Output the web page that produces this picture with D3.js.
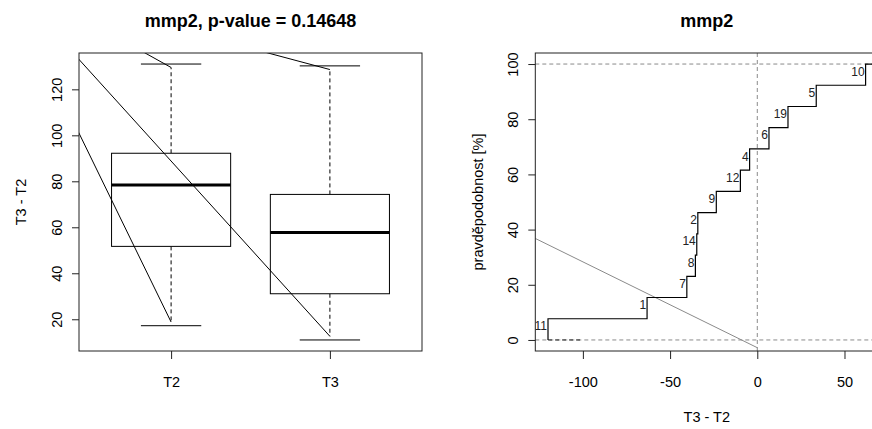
<!DOCTYPE html>
<html>
<head>
<meta charset="utf-8">
<script src="https://cdn.jsdelivr.net/npm/d3@7"></script>
<style>
body { margin: 0; background: #fff; }
text { font-family: "Liberation Sans", Arial, sans-serif; fill: #000; }
</style>
</head>
<body>
<script>
const width = 872, height = 429;

// left panel: boxplot of the two groups
const groups = ["T2", "T3"];
const capLow = [17.2, 11.0];
const whiskLow = [18.8, 12.6];
const q1 = [51.7, 31.1];
const medians = [78.4, 57.7];
const q3 = [92.2, 74.3];
const whiskHigh = [129.5, 128.6];
const capHigh = [131.0, 130.2];
const boxTicks = [20, 40, 60, 80, 100, 120];

// the stray lines over the boxplot, from x = 0 to a whisker end
const strayStart = [165.0, 160.4, 168.0, 165.6];
const strayGroup = [2, 1, 1, 2];
const strayEnd = [12.6, 18.8, 129.5, 128.6];

// right panel: empirical distribution of T3 - T2
const stepLabels = ["11", "1", "7", "8", "14", "2", "9", "12", "4", "6", "19", "5", "10"];
const stepX = [-120.0, -63.2, -40.4, -35.5, -34.7, -34.1, -23.5, -9.7, -4.4, 6.7, 17.6, 33.8, 62.1];
const ecdfYTicks = [0, 20, 40, 60, 80, 100];
const ecdfXTicks = [-100, -50, 0, 50];
const greyLineX = [-127.3, 0];
const greyLineY = [36.8, -2.8];
const darkZeroX = [-120, -100];

const tickFont = "14.5px", labFont = "12px";
const dash = "4,3", grey = "#8a8a8a";

const left = {x0: 79, x1: 422, y0: 53, y1: 351};
const right = {x0: 535.3, x1: 878.3, y0: 53, y1: 351};

const svg = d3.select("body")
    .append("svg")
    .attr("width", width)
    .attr("height", height);

function pad(lo, hi) {
    const d = (hi - lo) * 0.04;
    return [lo - d, hi + d];
}

const defs = svg.append("defs");
[["clipL", left], ["clipR", right]].forEach(([id, p]) => {
    defs.append("clipPath").attr("id", id)
        .append("rect")
        .attr("x", p.x0).attr("y", p.y0)
        .attr("width", p.x1 - p.x0).attr("height", p.y1 - p.y0);
});

// ---------- left panel ----------
const xL = d3.scaleLinear().domain(pad(0.5, groups.length + 0.5)).range([left.x0, left.x1]);
const yL = d3.scaleLinear().domain(pad(d3.min(capLow), d3.max(capHigh))).range([left.y1, left.y0]);

const boxData = groups.map((g, i) => ({
    name: g, pos: i + 1,
    capLow: capLow[i], whiskLow: whiskLow[i], q1: q1[i],
    med: medians[i], q3: q3[i], whiskHigh: whiskHigh[i], capHigh: capHigh[i]
}));

const gBox = svg.append("g").attr("clip-path", "url(#clipL)");

const box = gBox.selectAll("g.box")
    .data(boxData)
    .join("g")
    .attr("class", "box");

box.append("line")
    .attr("x1", d => xL(d.pos)).attr("x2", d => xL(d.pos))
    .attr("y1", d => yL(d.q3)).attr("y2", d => yL(d.whiskHigh))
    .attr("stroke", "#000").attr("stroke-dasharray", dash);
box.append("line")
    .attr("x1", d => xL(d.pos)).attr("x2", d => xL(d.pos))
    .attr("y1", d => yL(d.q1)).attr("y2", d => yL(d.whiskLow))
    .attr("stroke", "#000").attr("stroke-dasharray", dash);
["capLow", "capHigh"].forEach(k => {
    box.append("line")
        .attr("x1", d => xL(d.pos - 0.19)).attr("x2", d => xL(d.pos + 0.19))
        .attr("y1", d => yL(d[k])).attr("y2", d => yL(d[k]))
        .attr("stroke", "#000");
});
box.append("rect")
    .attr("x", d => xL(d.pos - 0.375))
    .attr("width", d => xL(d.pos + 0.375) - xL(d.pos - 0.375))
    .attr("y", d => yL(d.q3))
    .attr("height", d => yL(d.q1) - yL(d.q3))
    .attr("fill", "#fff").attr("stroke", "#000");
box.append("line")
    .attr("x1", d => xL(d.pos - 0.375)).attr("x2", d => xL(d.pos + 0.375))
    .attr("y1", d => yL(d.med)).attr("y2", d => yL(d.med))
    .attr("stroke", "#000").attr("stroke-width", 3);

gBox.selectAll("line.stray")
    .data(strayStart.map((s, i) => ({s, g: strayGroup[i], e: strayEnd[i]})))
    .join("line")
    .attr("class", "stray")
    .attr("x1", xL(0)).attr("y1", d => yL(d.s))
    .attr("x2", d => xL(d.g)).attr("y2", d => yL(d.e))
    .attr("stroke", "#000");

svg.append("rect")
    .attr("x", left.x0).attr("y", left.y0)
    .attr("width", left.x1 - left.x0).attr("height", left.y1 - left.y0)
    .attr("fill", "none").attr("stroke", "#222");

const axL = svg.append("g")
    .attr("transform", `translate(${left.x0},0)`)
    .call(d3.axisLeft(yL).tickValues(boxTicks).tickFormat(d => String(d)).tickSize(7));
const axLb = svg.append("g")
    .attr("transform", `translate(0,${left.y1})`)
    .call(d3.axisBottom(xL).tickValues([1, 2]).tickFormat(d => groups[d - 1]).tickSize(8));

svg.append("text")
    .attr("x", (left.x0 + left.x1) / 2).attr("y", 26.5)
    .attr("text-anchor", "middle")
    .style("font-size", "18px").style("font-weight", "bold")
    .text("mmp2, p-value = 0.14648");
svg.append("text")
    .attr("transform", `translate(26,${(left.y0 + left.y1) / 2}) rotate(-90)`)
    .attr("text-anchor", "middle")
    .style("font-size", tickFont)
    .text("T3 - T2");

// ---------- right panel ----------
const xR = d3.scaleLinear().domain(pad(d3.min(stepX), d3.max(stepX))).range([right.x0, right.x1]);
const yR = d3.scaleLinear().domain(pad(0, 100)).range([right.y1, right.y0]);
const n = stepX.length;
const level = i => (i + 1) / n * 100;

const gR = svg.append("g").attr("clip-path", "url(#clipR)");

[0, 100].forEach(v => {
    gR.append("line")
        .attr("x1", right.x0).attr("x2", right.x1)
        .attr("y1", yR(v)).attr("y2", yR(v))
        .attr("stroke", grey).attr("stroke-dasharray", dash);
});
gR.append("line")
    .attr("x1", xR(0)).attr("x2", xR(0))
    .attr("y1", right.y0).attr("y2", right.y1)
    .attr("stroke", grey).attr("stroke-dasharray", dash);

gR.append("line")
    .attr("x1", xR(darkZeroX[0])).attr("x2", xR(darkZeroX[1]))
    .attr("y1", yR(0)).attr("y2", yR(0))
    .attr("stroke", "#222").attr("stroke-dasharray", dash);

gR.append("line")
    .attr("x1", xR(greyLineX[0])).attr("y1", yR(greyLineY[0]))
    .attr("x2", xR(greyLineX[1])).attr("y2", yR(greyLineY[1]))
    .attr("stroke", grey);

const stepPts = [[stepX[0], 0]]
    .concat(stepX.map((x, i) => [x, level(i)]))
    .concat([[xR.domain()[1], 100]]);
gR.append("path")
    .attr("d", d3.line().x(d => xR(d[0])).y(d => yR(d[1])).curve(d3.curveStepAfter)(stepPts))
    .attr("fill", "none").attr("stroke", "#000").attr("stroke-width", 1.2);

gR.selectAll("text.lab")
    .data(stepLabels)
    .join("text")
    .attr("class", "lab")
    .attr("x", (d, i) => xR(stepX[i]) - 1)
    .attr("y", (d, i) => yR((level(i) + (i ? level(i - 1) : 0)) / 2) + 1)
    .attr("text-anchor", "end")
    .style("font-size", labFont)
    .style("fill", "#222")
    .text(d => d);

svg.append("rect")
    .attr("x", right.x0).attr("y", right.y0)
    .attr("width", right.x1 - right.x0).attr("height", right.y1 - right.y0)
    .attr("fill", "none").attr("stroke", "#222");

const axR = svg.append("g")
    .attr("transform", `translate(${right.x0},0)`)
    .call(d3.axisLeft(yR).tickValues(ecdfYTicks).tickFormat(d => String(d)).tickSize(7));
const axRb = svg.append("g")
    .attr("transform", `translate(0,${right.y1})`)
    .call(d3.axisBottom(xR).tickValues(ecdfXTicks).tickFormat(d => String(d)).tickSize(8));

svg.append("text")
    .attr("x", (right.x0 + right.x1) / 2).attr("y", 26.5)
    .attr("text-anchor", "middle")
    .style("font-size", "18px").style("font-weight", "bold")
    .text("mmp2");
svg.append("text")
    .attr("transform", `translate(482.5,${(right.y0 + right.y1) / 2}) rotate(-90)`)
    .attr("text-anchor", "middle")
    .style("font-size", tickFont)
    .text("pravděpodobnost [%]");
svg.append("text")
    .attr("x", (right.x0 + right.x1) / 2).attr("y", 421.5)
    .attr("text-anchor", "middle")
    .style("font-size", tickFont)
    .text("T3 - T2");

// R-like axes: no domain line, rotated y labels
[axL, axLb, axR, axRb].forEach(a => {
    a.select(".domain").remove();
    a.selectAll(".tick line").attr("stroke", "#222");
    a.selectAll("text").style("font-size", tickFont).style("font-family", null);
});
[axL, axR].forEach(a => {
    a.selectAll(".tick text")
        .attr("transform", "rotate(-90)")
        .attr("x", 0).attr("y", -17.5).attr("dy", null)
        .attr("text-anchor", "middle");
});
[axLb, axRb].forEach(a => {
    a.selectAll(".tick text").attr("y", 35.5).attr("dy", null);
});
</script>
</body>
</html>
